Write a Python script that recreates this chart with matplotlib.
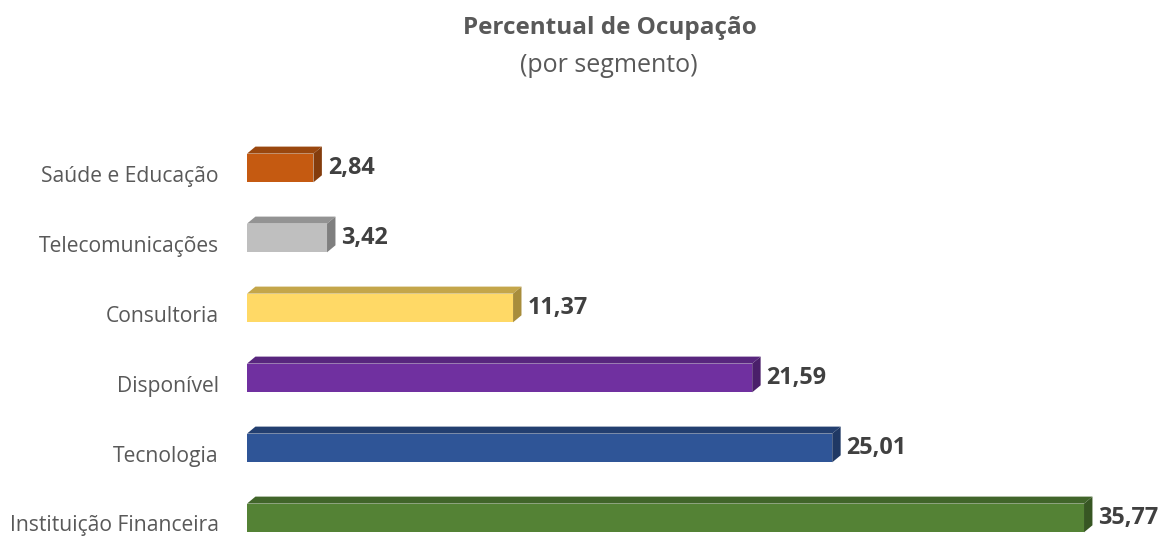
import matplotlib
matplotlib.use("Agg")
import matplotlib.pyplot as plt

plt.rcParams["font.family"] = ["Open Sans", "DejaVu Sans"]

# data, top to bottom
categories = ["Saúde e Educação", "Telecomunicações", "Consultoria",
              "Disponível", "Tecnologia", "Instituição Financeira"]
values = [2.84, 3.42, 11.37, 21.59, 25.01, 35.77]
labels = ["2,84", "3,42", "11,37", "21,59", "25,01", "35,77"]

front_colors = ["#C55A11", "#BFBFBF", "#FFD966", "#7030A0", "#2F5597", "#548235"]
top_colors = ["#9A470E", "#939393", "#C4A64A", "#58267E", "#233F70", "#41652A"]
side_colors = ["#843C0C", "#7F7F7F", "#A88D3C", "#4A1F6A", "#1F3864", "#375623"]

# 3D look: depth offsets in data units
DX = 0.36
DY = 0.10
BAR_TOP = -0.32
BAR_BOT = 0.09

fig = plt.figure(figsize=(11.6, 5.36), dpi=100)
ax = fig.add_axes([247 / 1160, 0, 913 / 1160, 430 / 536])
ax.set_xlim(0, 913 / 23.4)
ax.set_ylim((536 - 176) / 70, (106 - 176) / 70)
ax.axis("off")

for i, (v, fc, tc, sc) in enumerate(zip(values, front_colors, top_colors, side_colors)):
    t, b = i + BAR_TOP, i + BAR_BOT
    ax.fill([0, v, v, 0], [t, t, b, b], color=fc, lw=0)
    ax.fill([0, v, v + DX, DX], [t, t, t - DY, t - DY], color=tc, lw=0)
    ax.fill([v, v + DX, v + DX, v], [t, t - DY, b - DY, b], color=sc, lw=0)
    ax.text(v + DX + 0.25, (t + b) / 2, labels[i], ha="left", va="center",
            fontsize=16.8, fontweight="bold", color="#404040")
    ax.text(-1.2, i, categories[i], ha="right", va="center",
            fontsize=15.2, color="#595959")

fig.text(610 / 1160, 1 - 28 / 536, "Percentual de Ocupação", ha="center",
         va="center", fontsize=17.5, fontweight="bold", color="#595959")
fig.text(609 / 1160, 1 - 65 / 536, "(por segmento)", ha="center",
         va="center", fontsize=18, color="#595959")

fig.savefig("out.png", dpi=100)
